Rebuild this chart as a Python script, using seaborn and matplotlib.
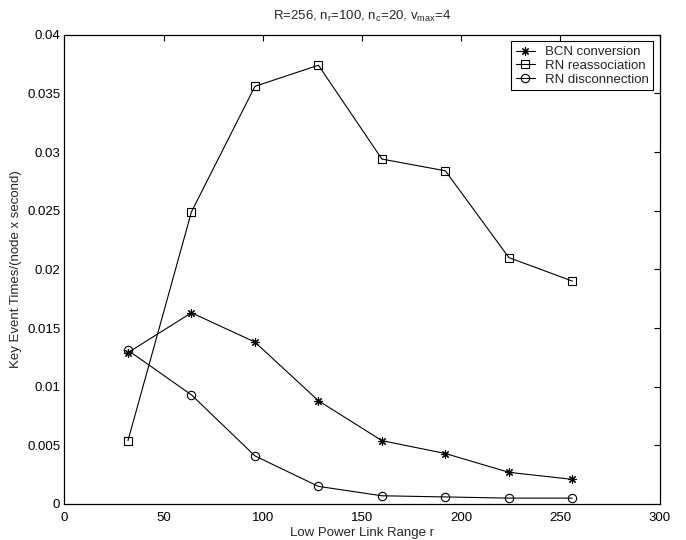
import numpy as np
import pandas as pd
import seaborn as sns
import matplotlib
matplotlib.use("Agg")
import matplotlib.pyplot as plt
from matplotlib.ticker import FuncFormatter

# data
link_range = [32, 64, 96, 128, 160, 192, 224, 256]
bcn_conversion = [0.0129, 0.0163, 0.0138, 0.0088, 0.0054, 0.0043, 0.0027, 0.0021]
rn_reassociation = [0.0054, 0.0249, 0.0356, 0.0374, 0.0294, 0.0284, 0.0210, 0.0190]
rn_disconnection = [0.0131, 0.0093, 0.0041, 0.0015, 0.0007, 0.0006, 0.0005, 0.0005]

series = {
    "BCN conversion": (bcn_conversion, (8, 2, 0)),
    "RN reassociation": (rn_reassociation, "s"),
    "RN disconnection": (rn_disconnection, "o"),
}

sns.set_style("white")
plt.rcParams["font.family"] = ["Liberation Sans", "DejaVu Sans"]
plt.rcParams["mathtext.default"] = "regular"
plt.rcParams["font.size"] = 9

fig = plt.figure(figsize=(6.86, 5.4), dpi=100)
ax = fig.add_axes([0.094, 0.0667, 0.8676, 0.869])

for name, (vals, mk) in series.items():
    df = pd.DataFrame({"r": link_range, "v": vals})
    sns.lineplot(data=df, x="r", y="v", ax=ax, color="black", linewidth=0.8,
                 marker=mk, markersize=6, markerfacecolor="none",
                 markeredgecolor="black", markeredgewidth=0.8, label=name)

ax.set_xlim(0, 300)
ax.set_ylim(0, 0.04)
ax.set_xticks(np.arange(0, 301, 50))
ax.set_yticks(np.arange(0, 0.0401, 0.005))
ax.yaxis.set_major_formatter(FuncFormatter(lambda v, p: "%g" % round(v, 4)))
ax.tick_params(direction="in", top=True, right=True, length=4, width=0.8,
               labelsize=9.5, colors="black", pad=3)
ax.tick_params(axis="x", pad=6)
for s in ax.spines.values():
    s.set_color("black")
    s.set_linewidth(0.9)

ax.set_xlabel("Low Power Link Range r", fontsize=9.5, labelpad=2)
ax.set_ylabel("Key Event Times/(node x second)", fontsize=9.5, labelpad=4)
ax.set_title("R=256, n$_r$=100, n$_c$=20, v$_{max}$=4", fontsize=9.5, pad=11)

leg = ax.legend(loc="upper right", fancybox=False, edgecolor="black",
                framealpha=1, fontsize=9.5, handlelength=1.5, handletextpad=0.7,
                borderaxespad=0.5, borderpad=0.35, labelspacing=0.12)
leg.get_frame().set_linewidth(0.8)

fig.savefig("out.png", dpi=100)
